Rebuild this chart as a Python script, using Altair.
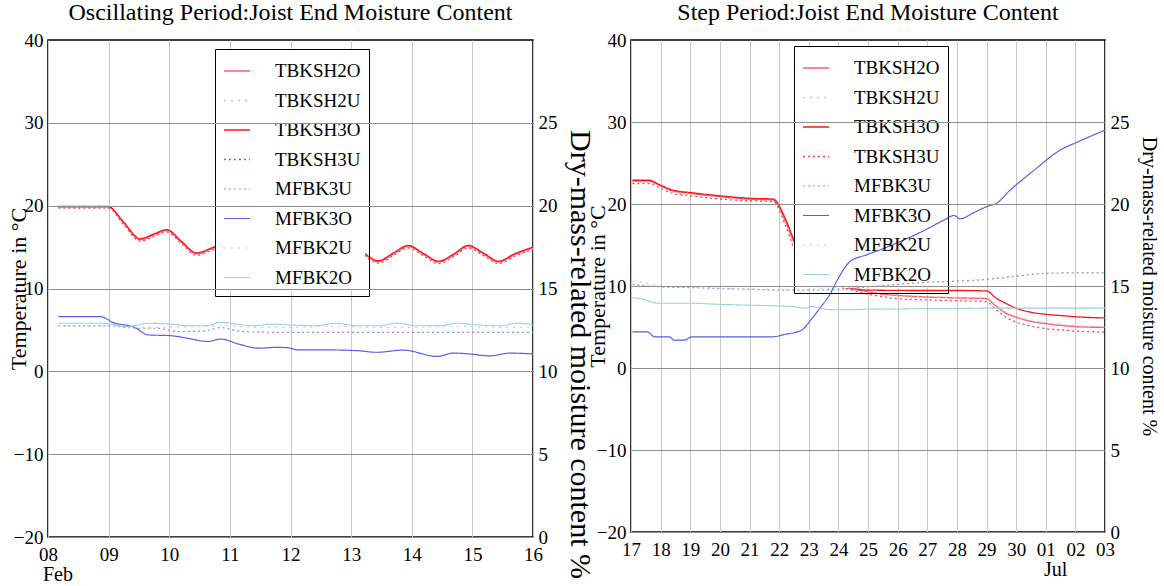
import altair as alt
import pandas as pd

FONT = "Liberation Serif"

SERIES = ["TBKSH2O", "TBKSH2U", "TBKSH3O", "TBKSH3U", "MFBK3U", "MFBK3O", "MFBK2U", "MFBK2O"]
COLORS = ["#ff5c70", "#d9b7bd", "#ff1414", "#ff3a55", "#8c8cdc", "#5a5ae6", "#c4cccc", "#96d2de"]
DASHES = [[1, 0], [2, 5], [1, 0], [2, 3], [2, 3], [1, 0], [2, 5], [1, 0]]
WIDTHS = [1.4, 1.1, 2.3, 1.6, 1.3, 1.6, 1.1, 1.5]
TEMP_SERIES = ["TBKSH2O", "TBKSH2U", "TBKSH3O", "TBKSH3U"]

# ---------------- Oscillating period (February, day of month) ----------------
# joist temperatures, °C
OSC_RED_DAY = [8.17, 8.99, 9.25, 9.52, 9.75, 9.96, 10.2, 10.45, 10.7, 10.95, 11.2, 11.45,
               11.7, 11.95, 12.2, 12.45, 12.7, 12.95, 13.2, 13.45, 13.7, 13.94, 14.2,
               14.44, 14.7, 14.93, 15.2, 15.43, 15.7, 16.0]
OSC_TBKSH3O = [19.9, 19.9, 18.0, 16.0, 16.6, 17.1, 15.7, 14.3, 14.9, 15.6, 14.7, 13.8,
               14.6, 15.4, 14.4, 13.5, 14.4, 15.3, 14.3, 13.35, 14.3, 15.2, 14.2, 13.3,
               14.2, 15.2, 14.2, 13.3, 14.2, 15.0]
OSC_TBKSH2O = [19.85, 19.85, 17.9, 15.9, 16.5, 17.0, 15.6, 14.2, 14.8, 15.5, 14.6, 13.7,
               14.5, 15.3, 14.3, 13.4, 14.3, 15.2, 14.2, 13.25, 14.2, 15.1, 14.1, 13.2,
               14.1, 15.1, 14.1, 13.2, 14.1, 14.9]
OSC_TBKSH2U = [19.8, 19.8, 17.8, 15.8, 16.4, 16.9, 15.5, 14.1, 14.7, 15.4, 14.5, 13.6,
               14.4, 15.2, 14.2, 13.3, 14.2, 15.1, 14.1, 13.15, 14.1, 15.0, 14.0, 13.1,
               14.0, 15.0, 14.0, 13.1, 14.0, 14.8]
OSC_TBKSH3U = [19.7, 19.7, 17.7, 15.7, 16.3, 16.8, 15.4, 14.0, 14.6, 15.3, 14.4, 13.5,
               14.3, 15.1, 14.1, 13.2, 14.1, 15.0, 14.0, 13.05, 14.0, 14.9, 13.9, 13.0,
               13.9, 14.9, 13.9, 13.0, 13.9, 14.7]

# moisture content, %
OSC_MFBK3O_DAY = [8.17, 8.87, 9.07, 9.43, 9.65, 10.03, 10.3, 10.64, 10.85, 11.14, 11.47,
                  11.8, 12.0, 12.1, 12.49, 13.09, 13.42, 13.86, 14.42, 14.69, 14.96,
                  15.29, 15.62, 16.0]
OSC_MFBK3O = [13.3, 13.3, 12.95, 12.65, 12.2, 12.15, 12.0, 11.8, 11.95, 11.65, 11.4,
              11.45, 11.4, 11.3, 11.3, 11.25, 11.15, 11.28, 10.9, 11.1, 11.05, 10.93,
              11.1, 11.05]

OSC_MFBK2O_DAY = [8.17, 8.9, 9.3, 9.65, 10.03, 10.3, 10.6, 10.85, 11.1, 11.4, 11.7, 12.0,
                  12.4, 12.75, 13.1, 13.45, 13.75, 14.1, 14.45, 14.75, 15.1, 15.45,
                  15.75, 16.0]
OSC_MFBK2O = [12.9, 12.9, 12.7, 12.9, 12.85, 12.75, 12.75, 12.95, 12.85, 12.75, 12.85,
              12.8, 12.75, 12.9, 12.75, 12.75, 12.9, 12.75, 12.75, 12.9, 12.8, 12.75,
              12.9, 12.8]

OSC_MFBK2U_DAY = [8.17, 9.0, 9.5, 10.0, 10.85, 11.5, 12.0, 12.75, 13.5, 14.0, 14.75,
                  15.5, 16.0]
OSC_MFBK2U = [12.75, 12.75, 12.65, 12.65, 12.75, 12.65, 12.65, 12.72, 12.65, 12.65,
              12.72, 12.65, 12.68]

OSC_MFBK3U_DAY = [8.17, 9.0, 9.3, 9.5, 9.8, 10.15, 10.6, 10.85, 11.1, 11.3, 12.0, 13.0,
                  14.0, 15.0, 16.0]
OSC_MFBK3U = [12.75, 12.75, 12.65, 12.6, 12.6, 12.4, 12.45, 12.65, 12.45, 12.38, 12.35,
              12.35, 12.35, 12.35, 12.35]

# ---------------- Step period (June, day of month; 31-33 = 1-3 July) ----------------
STEP_RED_DAY = [17.05, 17.6, 18.0, 18.4, 19.0, 20.0, 21.0, 21.8, 22.2, 22.5, 23.0, 23.5,
                24.0, 25.0, 25.5, 26.0, 27.0, 28.0, 29.0, 29.3, 29.7, 30.0, 30.5, 31.0,
                31.5, 32.0, 33.0]
STEP_TBKSH3O = [22.9, 22.9, 22.3, 21.7, 21.4, 21.0, 20.7, 20.6, 18.3, 15.6, 12.2, 10.6,
                10.1, 9.5, 9.48, 9.46, 9.45, 9.45, 9.4, 8.6, 7.8, 7.3, 6.8, 6.55, 6.4,
                6.25, 6.1]
STEP_TBKSH2O = [22.8, 22.8, 22.2, 21.6, 21.3, 20.9, 20.6, 20.5, 18.0, 15.3, 12.0, 10.6,
                10.0, 9.3, 9.0, 8.85, 8.65, 8.55, 8.45, 7.6, 6.6, 6.2, 5.7, 5.4, 5.2,
                5.05, 4.95]
STEP_TBKSH2U = [22.7, 22.7, 22.1, 21.5, 21.2, 20.8, 20.5, 20.4, 17.9, 15.2, 11.9, 10.5,
                10.0, 9.3, 9.1, 8.9, 8.7, 8.6, 8.5, 7.7, 6.7, 6.3, 5.8, 5.5, 5.3, 5.15,
                5.05]
STEP_TBKSH3U = [22.5, 22.5, 21.9, 21.3, 21.0, 20.6, 20.4, 20.3, 17.5, 14.6, 11.6, 10.3,
                9.9, 9.0, 8.7, 8.45, 8.3, 8.2, 8.1, 7.2, 6.1, 5.6, 5.1, 4.8, 4.65, 4.5,
                4.4]

STEP_MFBK3O_DAY = [17.05, 17.55, 17.8, 18.3, 18.45, 18.8, 19.05, 21.75, 22.2, 22.75,
                   23.08, 23.4, 23.7, 23.9, 24.4, 24.95, 25.4, 26.2, 26.8, 27.6, 27.9,
                   28.1, 28.6, 29.1, 29.3, 29.8, 30.6, 31.5, 32.1, 32.6, 33.0]
STEP_MFBK3O = [12.2, 12.2, 11.9, 11.9, 11.7, 11.7, 11.9, 11.9, 12.05, 12.3, 12.95, 13.7,
               14.45, 15.15, 16.5, 16.9, 17.2, 17.8, 18.3, 19.05, 19.3, 19.1, 19.5,
               19.9, 20.0, 20.85, 22.05, 23.3, 23.8, 24.2, 24.5]

STEP_MFBK3U_DAY = [17.05, 18.0, 19.0, 20.0, 21.0, 22.0, 23.0, 24.0, 25.0, 26.0, 27.0,
                   28.0, 29.0, 30.0, 31.0, 32.0, 33.0]
STEP_MFBK3U = [15.1, 14.95, 14.9, 14.85, 14.8, 14.75, 14.75, 14.8, 14.95, 15.1, 15.23,
               15.3, 15.4, 15.6, 15.78, 15.8, 15.8]

STEP_MFBK2U_DAY = [17.05, 17.5, 18.0, 19.0, 20.0, 21.0, 22.0, 22.7, 23.0, 23.5, 24.0, 24.8]
STEP_MFBK2U = [15.3, 15.2, 15.0, 14.95, 14.85, 14.8, 14.8, 14.65, 14.8, 14.85, 14.9, 14.9]

STEP_MFBK2O_DAY = [17.05, 17.5, 17.9, 18.5, 19.0, 20.0, 21.0, 22.0, 22.5, 22.9, 23.1,
                   23.5, 24.0, 24.5, 25.0, 26.0, 27.0, 28.0, 29.0, 30.0, 31.0, 32.0, 33.0]
STEP_MFBK2O = [14.3, 14.15, 13.95, 13.95, 13.95, 13.88, 13.83, 13.78, 13.73, 13.65, 13.75,
               13.6, 13.55, 13.55, 13.6, 13.6, 13.63, 13.63, 13.65, 13.65, 13.65, 13.65,
               13.65]

OSC_TICKS = list(range(8, 17))
STEP_TICKS = list(range(17, 34))
OSC_MONTH = (8, "Feb")      # month name shown under the tick of this day
STEP_MONTH = (31, "Jul")

# legend frame size in pixels, used for its white backing
LEG_W, LEG_H = 150, 242


def frame(series_map, base):
    rows = []
    for name, (days, vals) in series_map.items():
        for d, v in zip(days, vals):
            rows.append({"series": name,
                         "t": base + pd.to_timedelta(d - 1, unit="D"),
                         "v": v})
    return pd.DataFrame(rows)


def dt(ts):
    return alt.DateTime(year=ts.year, month=ts.month, date=ts.day)


osc_base = pd.Timestamp("2016-02-01")
step_base = pd.Timestamp("2016-06-01")

osc_df = frame({
    "TBKSH2O": (OSC_RED_DAY, OSC_TBKSH2O),
    "TBKSH2U": (OSC_RED_DAY, OSC_TBKSH2U),
    "TBKSH3O": (OSC_RED_DAY, OSC_TBKSH3O),
    "TBKSH3U": (OSC_RED_DAY, OSC_TBKSH3U),
    "MFBK3U": (OSC_MFBK3U_DAY, OSC_MFBK3U),
    "MFBK3O": (OSC_MFBK3O_DAY, OSC_MFBK3O),
    "MFBK2U": (OSC_MFBK2U_DAY, OSC_MFBK2U),
    "MFBK2O": (OSC_MFBK2O_DAY, OSC_MFBK2O),
}, osc_base)

step_df = frame({
    "TBKSH2O": (STEP_RED_DAY, STEP_TBKSH2O),
    "TBKSH2U": (STEP_RED_DAY, STEP_TBKSH2U),
    "TBKSH3O": (STEP_RED_DAY, STEP_TBKSH3O),
    "TBKSH3U": (STEP_RED_DAY, STEP_TBKSH3U),
    "MFBK3U": (STEP_MFBK3U_DAY, STEP_MFBK3U),
    "MFBK3O": (STEP_MFBK3O_DAY, STEP_MFBK3O),
    "MFBK2U": (STEP_MFBK2U_DAY, STEP_MFBK2U),
    "MFBK2O": (STEP_MFBK2O_DAY, STEP_MFBK2O),
}, step_base)


def panel(df, base, ticks, month, title, w, h, legend_x, legend_y,
          left_title_x, right_title_x, right_title_y, right_title_size):
    start = base + pd.to_timedelta(ticks[0] - 1, unit="D")
    end = base + pd.to_timedelta(ticks[-1] - 1, unit="D")
    tick_vals = [dt(base + pd.to_timedelta(d - 1, unit="D")) for d in ticks]
    x_scale = alt.Scale(domain=[dt(start), dt(end)])

    legend = alt.Legend(
        title=None, orient="none", legendX=legend_x, legendY=legend_y,
        symbolType="stroke", symbolSize=680, symbolStrokeWidth=1.6,
        labelFont=FONT, labelFontSize=19, labelColor="black", labelOffset=24,
        rowPadding=5.5, padding=8, strokeColor="black", fillColor="transparent",
        cornerRadius=0, labelLimit=200,
    )
    color = alt.Color("series:N", scale=alt.Scale(domain=SERIES, range=COLORS),
                      sort=SERIES, legend=legend)
    dash = alt.StrokeDash("series:N", scale=alt.Scale(domain=SERIES, range=DASHES),
                          sort=SERIES, legend=legend)
    width = alt.StrokeWidth("series:N", scale=alt.Scale(domain=SERIES, range=WIDTHS),
                            sort=SERIES, legend=legend)
    x_enc = alt.X("t:T", scale=x_scale,
                  axis=alt.Axis(values=tick_vals, format="%d", title=None,
                                grid=True, gridColor="#c9c9c9", gridWidth=1,
                                ticks=False, domain=False, labelPadding=8,
                                labelFlush=False, labelOverlap=False))

    is_temp = alt.FieldOneOfPredicate(field="series", oneOf=TEMP_SERIES)

    # joist temperatures on the left (°C) axis
    temps = alt.Chart(df).transform_filter(is_temp).transform_calculate(
        rank="indexof(['TBKSH2U','TBKSH2O','TBKSH3U','TBKSH3O'], datum.series)"
    ).mark_line(interpolate="monotone", clip=True).encode(
        x=x_enc,
        y=alt.Y("v:Q", scale=alt.Scale(domain=[-20, 40], nice=False),
                axis=alt.Axis(values=[-20, -10, 0, 10, 20, 30, 40],
                              title="Temperature in °C", grid=False,
                              ticks=False, domain=False, labelPadding=5,
                              titleFontSize=22,
                              titleX=left_title_x, titleY=h / 2,
                              titleBaseline="middle", titleAlign="center")),
        color=color, strokeDash=dash, strokeWidth=width,
        order=alt.Order("rank:Q"),
    )

    # white backing of the legend frame, between the two axes' curves
    backing = alt.Chart(pd.DataFrame({"k": [0]})).mark_rect(
        color="white", opacity=1
    ).encode(
        x=alt.value(legend_x), x2=alt.value(legend_x + LEG_W),
        y=alt.value(legend_y), y2=alt.value(legend_y + LEG_H),
    )

    month_day, month_name = month
    month_df = pd.DataFrame({"t": [base + pd.to_timedelta(month_day - 1, unit="D")],
                             "label": [month_name]})
    month_text = alt.Chart(month_df).mark_text(
        font=FONT, fontSize=20, align="center", baseline="alphabetic", dx=10, color="black"
    ).encode(
        x=x_enc,
        y=alt.value(h + 44),
        text="label:N",
    )

    # moisture contents on the right (%) axis, drawn over the legend backing
    moist = alt.Chart(df).transform_filter(~is_temp).transform_calculate(
        rank="indexof(['MFBK2U','MFBK2O','MFBK3U','MFBK3O'], datum.series)"
    ).mark_line(interpolate="monotone", clip=True).encode(
        x=x_enc,
        y=alt.Y("v:Q", scale=alt.Scale(domain=[0, 30], nice=False),
                axis=alt.Axis(orient="right", values=[0, 5, 10, 15, 20, 25],
                              title="Dry-mass-related moisture content %",
                              grid=True, gridColor="#8f8f8f", gridWidth=1, zindex=1,
                              ticks=False, domain=False, labelPadding=5,
                              titleFontSize=right_title_size,
                              titleX=right_title_x, titleY=right_title_y,
                              titleBaseline="middle", titleAlign="center")),
        color=color, strokeDash=dash, strokeWidth=width,
        order=alt.Order("rank:Q"),
    )

    base_layer = alt.layer(temps, backing, month_text)
    return alt.layer(base_layer, moist).resolve_scale(y="independent").properties(
        width=w, height=h,
        title=alt.Title(title, font=FONT, fontSize=24, fontWeight="normal",
                        color="black", frame="group", anchor="middle", offset=6),
    )


left = panel(osc_df, osc_base, OSC_TICKS, OSC_MONTH,
             "Oscillating Period:Joist End Moisture Content",
             485, 497, 167, 9, -30, 46, 314, 30)
right = panel(step_df, step_base, STEP_TICKS, STEP_MONTH,
              "Step Period:Joist End Moisture Content",
              474, 492, 163, 6, -34, 43, 246, 20)

chart = alt.hconcat(left, right, spacing=-10).resolve_scale(
    color="independent", strokeDash="independent", strokeWidth="independent"
).resolve_legend(
    color="independent", strokeDash="independent", strokeWidth="independent"
).configure(
    padding={"left": 6, "top": 0, "right": 0, "bottom": 0},
    background="white",
).configure_view(
    stroke="black", strokeWidth=1.6,
).configure_axis(
    labelFont=FONT, labelFontSize=19, labelColor="black",
    titleFont=FONT, titleFontSize=20, titleFontWeight="normal", titleColor="black",
)

chart.save("out.html", embed_options={"renderer": "svg", "actions": False})
